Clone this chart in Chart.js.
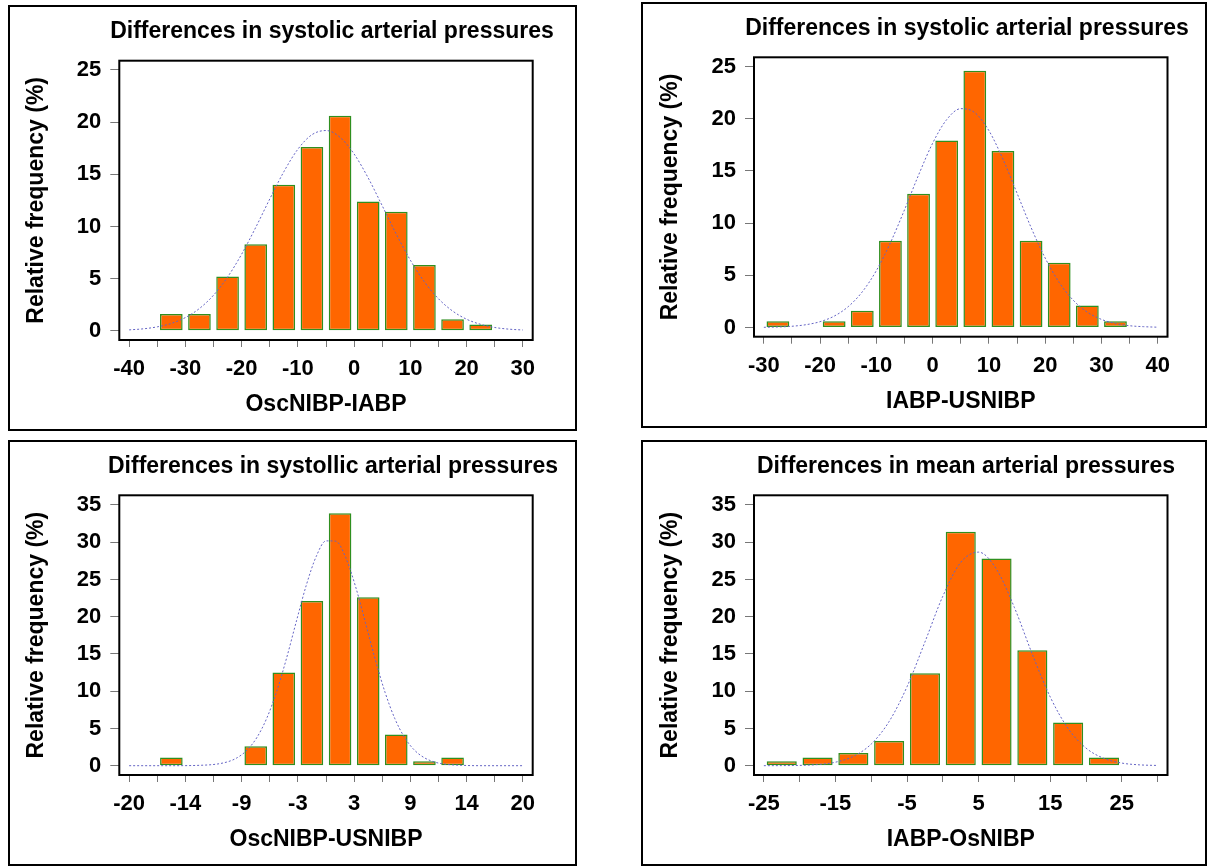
<!DOCTYPE html>
<html>
<head>
<meta charset="utf-8">
<script src="https://cdn.jsdelivr.net/npm/chart.js@4.4.1/dist/chart.umd.min.js"></script>
<style>
  html, body { margin: 0; padding: 0; background: #fff; width: 1208px; height: 866px; overflow: hidden; }
  .panel { position: absolute; border: 2px solid #000; box-sizing: border-box; background: #fff; }
  .panel canvas { position: absolute; left: 0; top: 0; }
</style>
</head>
<body>
<div class="panel" id="p1"><canvas id="c1"></canvas></div>
<div class="panel" id="p2"><canvas id="c2"></canvas></div>
<div class="panel" id="p3"><canvas id="c3"></canvas></div>
<div class="panel" id="p4"><canvas id="c4"></canvas></div>
<script>
// --- panel 1: OscNIBP-IABP (systolic) ---
const oscIabpBins = [-32.5, -27.5, -22.5, -17.5, -12.5, -7.5, -2.5, 2.5, 7.5, 12.5, 17.5, 22.5];
const oscIabpFreq = [1.6, 1.6, 5.2, 8.3, 14.0, 17.6, 20.6, 12.4, 11.4, 6.3, 1.1, 0.6];
const oscIabpCurveX = [-40, -37.5, -35, -32.5, -30, -27.5, -25, -22.5, -20, -17.5, -15, -12.5, -10, -7.5, -5,
  -2.5, 0, 2.5, 5, 7.5, 10, 12.5, 15, 17.5, 20, 22.5, 25, 27.5, 30];
const oscIabpCurveY = [0.09, 0.19, 0.38, 0.71, 1.27, 2.14, 3.41, 5.15, 7.34, 9.90, 12.63, 15.24, 17.40, 18.79, 19.19,
  18.54, 16.94, 14.65, 11.98, 9.26, 6.77, 4.69, 3.07, 1.90, 1.11, 0.62, 0.32, 0.16, 0.08];
const oscIabpTicks = [-40, -35, -30, -25, -20, -15, -10, -5, 0, 5, 10, 15, 20, 25, 30];
const oscIabpLabels = ['-40', '', '-30', '', '-20', '', '-10', '', '0', '', '10', '', '20', '', '30'];

// --- panel 2: IABP-USNIBP (systolic) ---
const iabpUsBins = [-27.5, -17.5, -12.5, -7.5, -2.5, 2.5, 7.5, 12.5, 17.5, 22.5, 27.5, 32.5];
const iabpUsFreq = [0.6, 0.6, 1.6, 8.3, 12.8, 17.9, 24.6, 16.9, 8.3, 6.2, 2.1, 0.6];
const iabpUsCurveX = [-30, -27.5, -25, -22.5, -20, -17.5, -15, -12.5, -10, -7.5, -5, -2.5, 0, 2.5, 5,
  7.5, 10, 12.5, 15, 17.5, 20, 22.5, 25, 27.5, 30, 32.5, 35, 37.5, 40];
const iabpUsCurveY = [0.02, 0.05, 0.12, 0.27, 0.56, 1.09, 2.00, 3.42, 5.45, 8.12, 11.27, 14.60, 17.65, 19.91, 20.96,
  20.58, 18.86, 16.13, 12.87, 9.58, 6.66, 4.32, 2.61, 1.47, 0.78, 0.38, 0.17, 0.08, 0.03];
const iabpUsTicks = [-30, -25, -20, -15, -10, -5, 0, 5, 10, 15, 20, 25, 30, 35, 40];
const iabpUsLabels = ['-30', '', '-20', '', '-10', '', '0', '', '10', '', '20', '', '30', '', '40'];

// --- panel 3: OscNIBP-USNIBP (systolic) ---
const oscUsBins = [-15.71, -7.14, -4.29, -1.43, 1.43, 4.29, 7.14, 10.0, 12.86];
const oscUsFreq = [1.1, 2.6, 12.5, 22.1, 33.9, 22.6, 4.2, 0.6, 1.1];
const oscUsCurveX = [-20, -16, -12, -10, -9, -8, -7, -6, -5, -4, -3, -2, -1, 0, 1,
  2, 3, 4, 5, 6, 7, 8, 9, 10, 11, 12, 14, 16, 20];
const oscUsCurveY = [0, 0, 0.1, 0.52, 1.09, 2.12, 3.83, 6.43, 10.01, 14.47, 19.44, 24.24, 28.07, 30.18, 30.14,
  27.95, 24.06, 19.24, 14.28, 9.85, 6.30, 3.75, 2.07, 1.06, 0.50, 0.22, 0.04, 0, 0];
const oscUsTicks = [-20, -17.143, -14.286, -11.429, -8.571, -5.714, -2.857, 0, 2.857, 5.714, 8.571, 11.429, 14.286, 17.143, 20];
const oscUsLabels = ['-20', '', '-14', '', '-9', '', '-3', '', '3', '', '9', '', '14', '', '20'];

// --- panel 4: IABP-OsNIBP (mean) ---
const iabpOsBins = [-22.5, -17.5, -12.5, -7.5, -2.5, 2.5, 7.5, 12.5, 17.5, 22.5];
const iabpOsFreq = [0.6, 1.1, 1.7, 3.3, 12.4, 31.4, 27.8, 15.5, 5.8, 1.1];
const iabpOsCurveX = [-25, -22.5, -20, -17.5, -15, -12.5, -10, -7.5, -5, -2.5, 0, 2.5,
  5, 7.5, 10, 12.5, 15, 17.5, 20, 22.5, 25, 27.5, 30];
const iabpOsCurveY = [0.0, 0.01, 0.04, 0.15, 0.47, 1.25, 2.91, 5.94, 10.61, 16.61, 22.76, 27.30,
  28.67, 26.36, 21.22, 14.95, 9.22, 4.98, 2.36, 0.98, 0.35, 0.11, 0.03];
const iabpOsTicks = [-25, -20, -15, -10, -5, 0, 5, 10, 15, 20, 25, 30];
const iabpOsLabels = ['-25', '', '-15', '', '-5', '', '5', '', '15', '', '25', ''];

const yTicks25 = [0, 5, 10, 15, 20, 25];
const yTicks35 = [0, 5, 10, 15, 20, 25, 30, 35];

const FONT = "'Liberation Sans', Arial, Helvetica, sans-serif";

// draws the closed box round the plot area
const frame = {
  id: 'frame',
  afterDatasetsDraw(chart) {
    const { ctx, chartArea: a } = chart;
    ctx.save();
    ctx.strokeStyle = '#000';
    ctx.lineWidth = 2;
    ctx.strokeRect(a.left, a.top, a.right - a.left, a.bottom - a.top);
    ctx.restore();
  }
};

function drawPanel(cfg) {
  const o = cfg.outer, p = cfg.plot;
  const div = document.getElementById(cfg.div);
  Object.assign(div.style, { left: o.x + 'px', top: o.y + 'px', width: o.w + 'px', height: o.h + 'px' });

  const cx = o.x + 2, cy = o.y + 2, ch = o.h - 4;
  const area = { l: p.l - cx, t: p.t - cy, r: p.r - cx, b: p.b - cy };
  // the full-width title is centred between padLeft and the canvas edge,
  // so the canvas runs a little past the panel's right border (transparent there)
  const padLeft = 60;
  const cw = Math.round(2 * (cfg.titleCenter - cx) - padLeft);
  const canvas = document.getElementById(cfg.canvas);
  canvas.width = cw;
  canvas.height = ch;

  const bars = cfg.bins.map((x, i) => ({ x, y: cfg.freq[i] }));
  const curve = cfg.curveX.map((x, i) => ({ x, y: cfg.curveY[i] }));
  const bold = size => ({ family: FONT, size, weight: 'bold' });
  const titleLine = 23 * 1.2, axisLine = 23 * 1.2;

  new Chart(canvas, {
    type: 'bar',
    data: {
      datasets: [
        {
          type: 'line',
          data: curve,
          borderColor: '#6464c4',
          borderWidth: 1,
          borderDash: [2, 2],
          pointRadius: 0,
          fill: false,
          cubicInterpolationMode: 'monotone',
          order: 0
        },
        {
          type: 'bar',
          data: bars,
          backgroundColor: '#ff6600',
          borderColor: '#2f8f1f',
          borderWidth: 1.5,
          borderSkipped: false,
          barPercentage: cfg.barPct,
          categoryPercentage: 1,
          order: 1
        }
      ]
    },
    options: {
      responsive: false,
      animation: false,
      devicePixelRatio: 1,
      layout: { padding: { left: padLeft, top: 0, right: 0, bottom: 0 } },
      plugins: {
        legend: { display: false },
        tooltip: { enabled: false },
        title: {
          display: true,
          text: cfg.title,
          fullSize: true,
          color: '#000',
          font: bold(23),
          padding: { top: area.t - 28.6 - titleLine / 2, bottom: 28.6 - titleLine / 2 }
        }
      },
      scales: {
        x: {
          type: 'linear',
          min: cfg.xRange[0],
          max: cfg.xRange[1],
          offset: false,
          afterBuildTicks: s => { s.ticks = cfg.xTicks.map(v => ({ value: v })); },
          afterFit: s => { s.height = ch - area.b; },
          ticks: {
            autoSkip: false, maxRotation: 0, minRotation: 0, padding: 9,
            color: '#000', font: bold(22),
            callback: (v, i) => cfg.xLabels[i]
          },
          grid: { offset: false, drawOnChartArea: false, drawTicks: true, tickLength: 7, tickColor: '#777', tickWidth: 1 },
          border: { display: false },
          title: {
            display: true, text: cfg.xTitle, color: '#000', font: bold(23),
            padding: { top: 0, bottom: ch - area.b - 65 - axisLine / 2 }
          }
        },
        y: {
          min: cfg.yRange[0],
          max: cfg.yRange[1],
          afterBuildTicks: s => { s.ticks = cfg.yTicks.map(v => ({ value: v })); },
          afterFit: s => { s.width = area.l - padLeft; },
          ticks: { padding: 9, color: '#000', font: bold(22), callback: v => String(v) },
          grid: { drawOnChartArea: false, drawTicks: true, tickLength: 9, tickColor: '#777', tickWidth: 1 },
          border: { display: false },
          title: {
            display: true, text: 'Relative frequency (%)', color: '#000', font: bold(23),
            padding: { top: area.l - 83 - axisLine / 2 - padLeft, bottom: 0 }
          }
        },
        // empty right-hand box: keeps the plot area clear of the panel's right edge
        yRight: {
          position: 'right',
          afterFit: s => { s.width = cw - area.r; },
          ticks: { display: false },
          grid: { display: false, drawTicks: false },
          border: { display: false }
        }
      }
    },
    plugins: [frame]
  });
}

drawPanel({
  div: 'p1', canvas: 'c1',
  outer: { x: 8, y: 5, w: 569, h: 426 },
  plot: { l: 119.3, t: 60.7, r: 532.7, b: 340 },
  titleCenter: 332,
  title: 'Differences in systolic arterial pressures', xTitle: 'OscNIBP-IABP',
  bins: oscIabpBins, freq: oscIabpFreq, curveX: oscIabpCurveX, curveY: oscIabpCurveY,
  xTicks: oscIabpTicks, xLabels: oscIabpLabels, yTicks: yTicks25,
  xRange: [-41.75, 31.75], yRange: [-0.88, 25.88], barPct: 0.805
});

drawPanel({
  div: 'p2', canvas: 'c2',
  outer: { x: 641, y: 2, w: 566, h: 426 },
  plot: { l: 754, t: 57.3, r: 1167.5, b: 336.7 },
  titleCenter: 967,
  title: 'Differences in systolic arterial pressures', xTitle: 'IABP-USNIBP',
  bins: iabpUsBins, freq: iabpUsFreq, curveX: iabpUsCurveX, curveY: iabpUsCurveY,
  xTicks: iabpUsTicks, xLabels: iabpUsLabels, yTicks: yTicks25,
  xRange: [-31.75, 41.75], yRange: [-0.88, 25.88], barPct: 0.81
});

drawPanel({
  div: 'p3', canvas: 'c3',
  outer: { x: 8, y: 440, w: 569, h: 426 },
  plot: { l: 119.3, t: 495.3, r: 532.7, b: 775 },
  titleCenter: 333,
  title: 'Differences in systollic arterial pressures', xTitle: 'OscNIBP-USNIBP',
  bins: oscUsBins, freq: oscUsFreq, curveX: oscUsCurveX, curveY: oscUsCurveY,
  xTicks: oscUsTicks, xLabels: oscUsLabels, yTicks: yTicks35,
  xRange: [-21, 21], yRange: [-1.25, 36.3], barPct: 0.805
});

drawPanel({
  div: 'p4', canvas: 'c4',
  outer: { x: 641, y: 440, w: 566, h: 426 },
  plot: { l: 754, t: 495.3, r: 1167.5, b: 775 },
  titleCenter: 966,
  title: 'Differences in mean arterial pressures', xTitle: 'IABP-OsNIBP',
  bins: iabpOsBins, freq: iabpOsFreq, curveX: iabpOsCurveX, curveY: iabpOsCurveY,
  xTicks: iabpOsTicks, xLabels: iabpOsLabels, yTicks: yTicks35,
  xRange: [-26.375, 31.375], yRange: [-1.25, 36.3], barPct: 0.84
});
</script>
</body>
</html>
